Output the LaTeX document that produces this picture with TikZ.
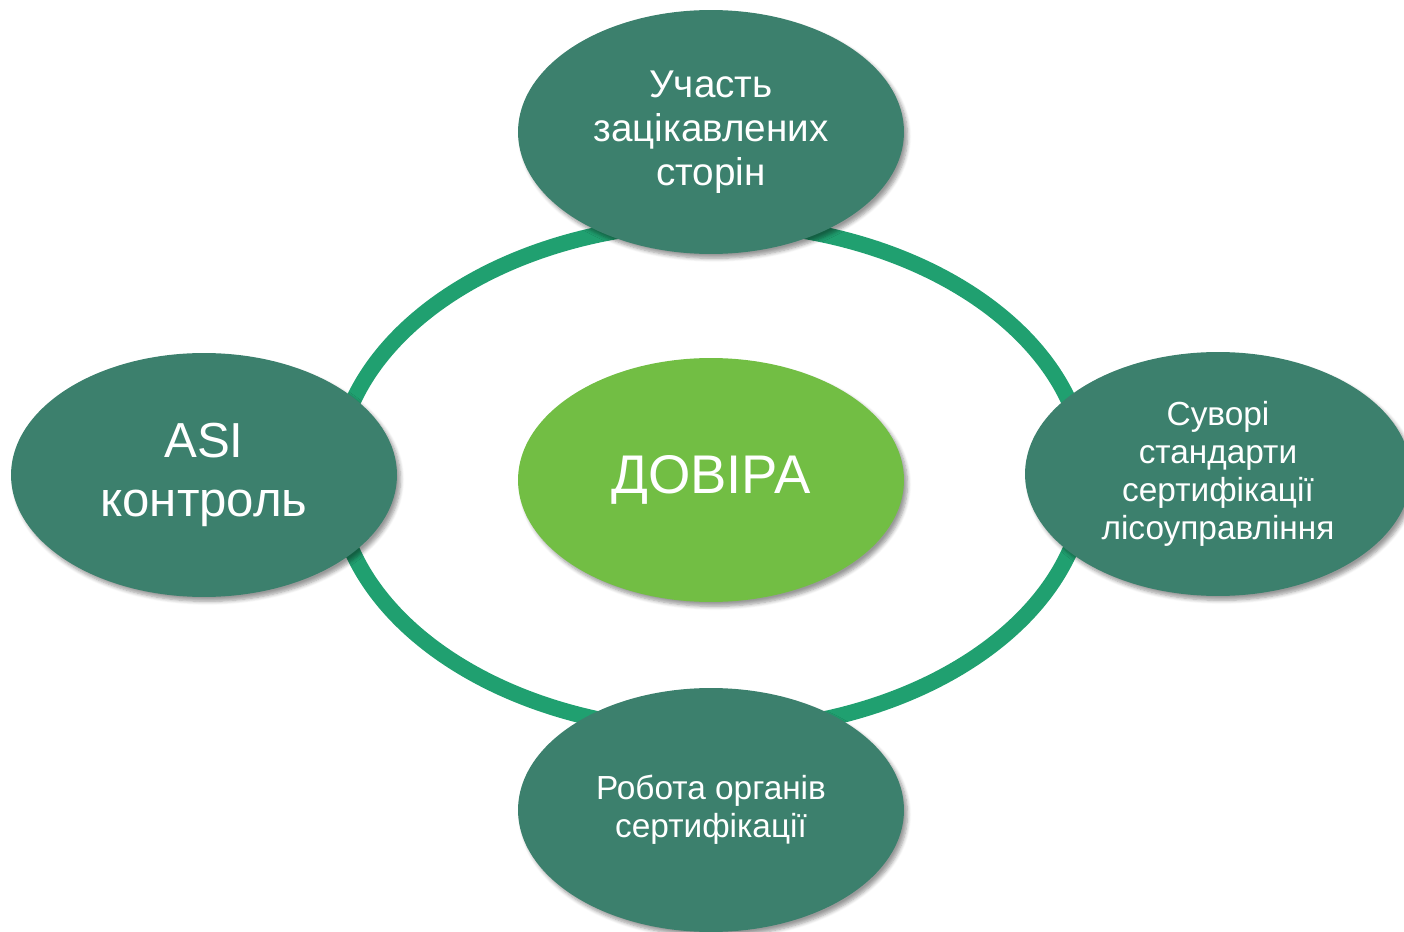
\documentclass[tikz,border=0pt]{standalone}
\usepackage{fontspec}
\setmainfont{Liberation Sans}
\usetikzlibrary{shapes.geometric,shadows.blur}
\definecolor{darkgr}{RGB}{60,128,109}
\definecolor{lightgr}{RGB}{114,190,68}
\definecolor{ringgr}{RGB}{32,160,112}
\tikzset{
    bubble/.style={ellipse, fill=darkgr, text=white, minimum width=7.72cm, minimum height=4.88cm,
        inner sep=0pt, align=center, blur shadow={shadow xshift=2pt, shadow yshift=-2.5pt, shadow blur steps=6, shadow opacity=40}},
}

\begin{document}
\begin{tikzpicture}[x=0.02cm,y=0.02cm]
                \clip (0,0) rectangle (1404,931);
                \path[use as bounding box] (0,0) rectangle (1404,931);
                \coordinate (mid) at (711,454);
                \draw[ringgr, line width=0.32cm] (mid) ellipse [x radius=375, y radius=254];
                \node[bubble, font=\fontsize{22}{25}\selectfont] (top) at (711,799) {Участь\\зацікавлених\\сторін};
                \node[bubble, font=\fontsize{28}{34}\selectfont] (left) at (204,456) {ASI\\контроль};
                \node[bubble, font=\fontsize{19}{21.5}\selectfont] (right) at (1218,457) {Суворі\\стандарти\\сертифікації\\лісоуправління};
                \node[bubble, font=\fontsize{19}{21.5}\selectfont] (bottom) at (711,121) {Робота органів\\сертифікації};
                \node[bubble, fill=lightgr, font=\fontsize{31}{36}\selectfont] (trust) at (711,451) {ДОВІРА};
            \end{tikzpicture}
\end{document}
